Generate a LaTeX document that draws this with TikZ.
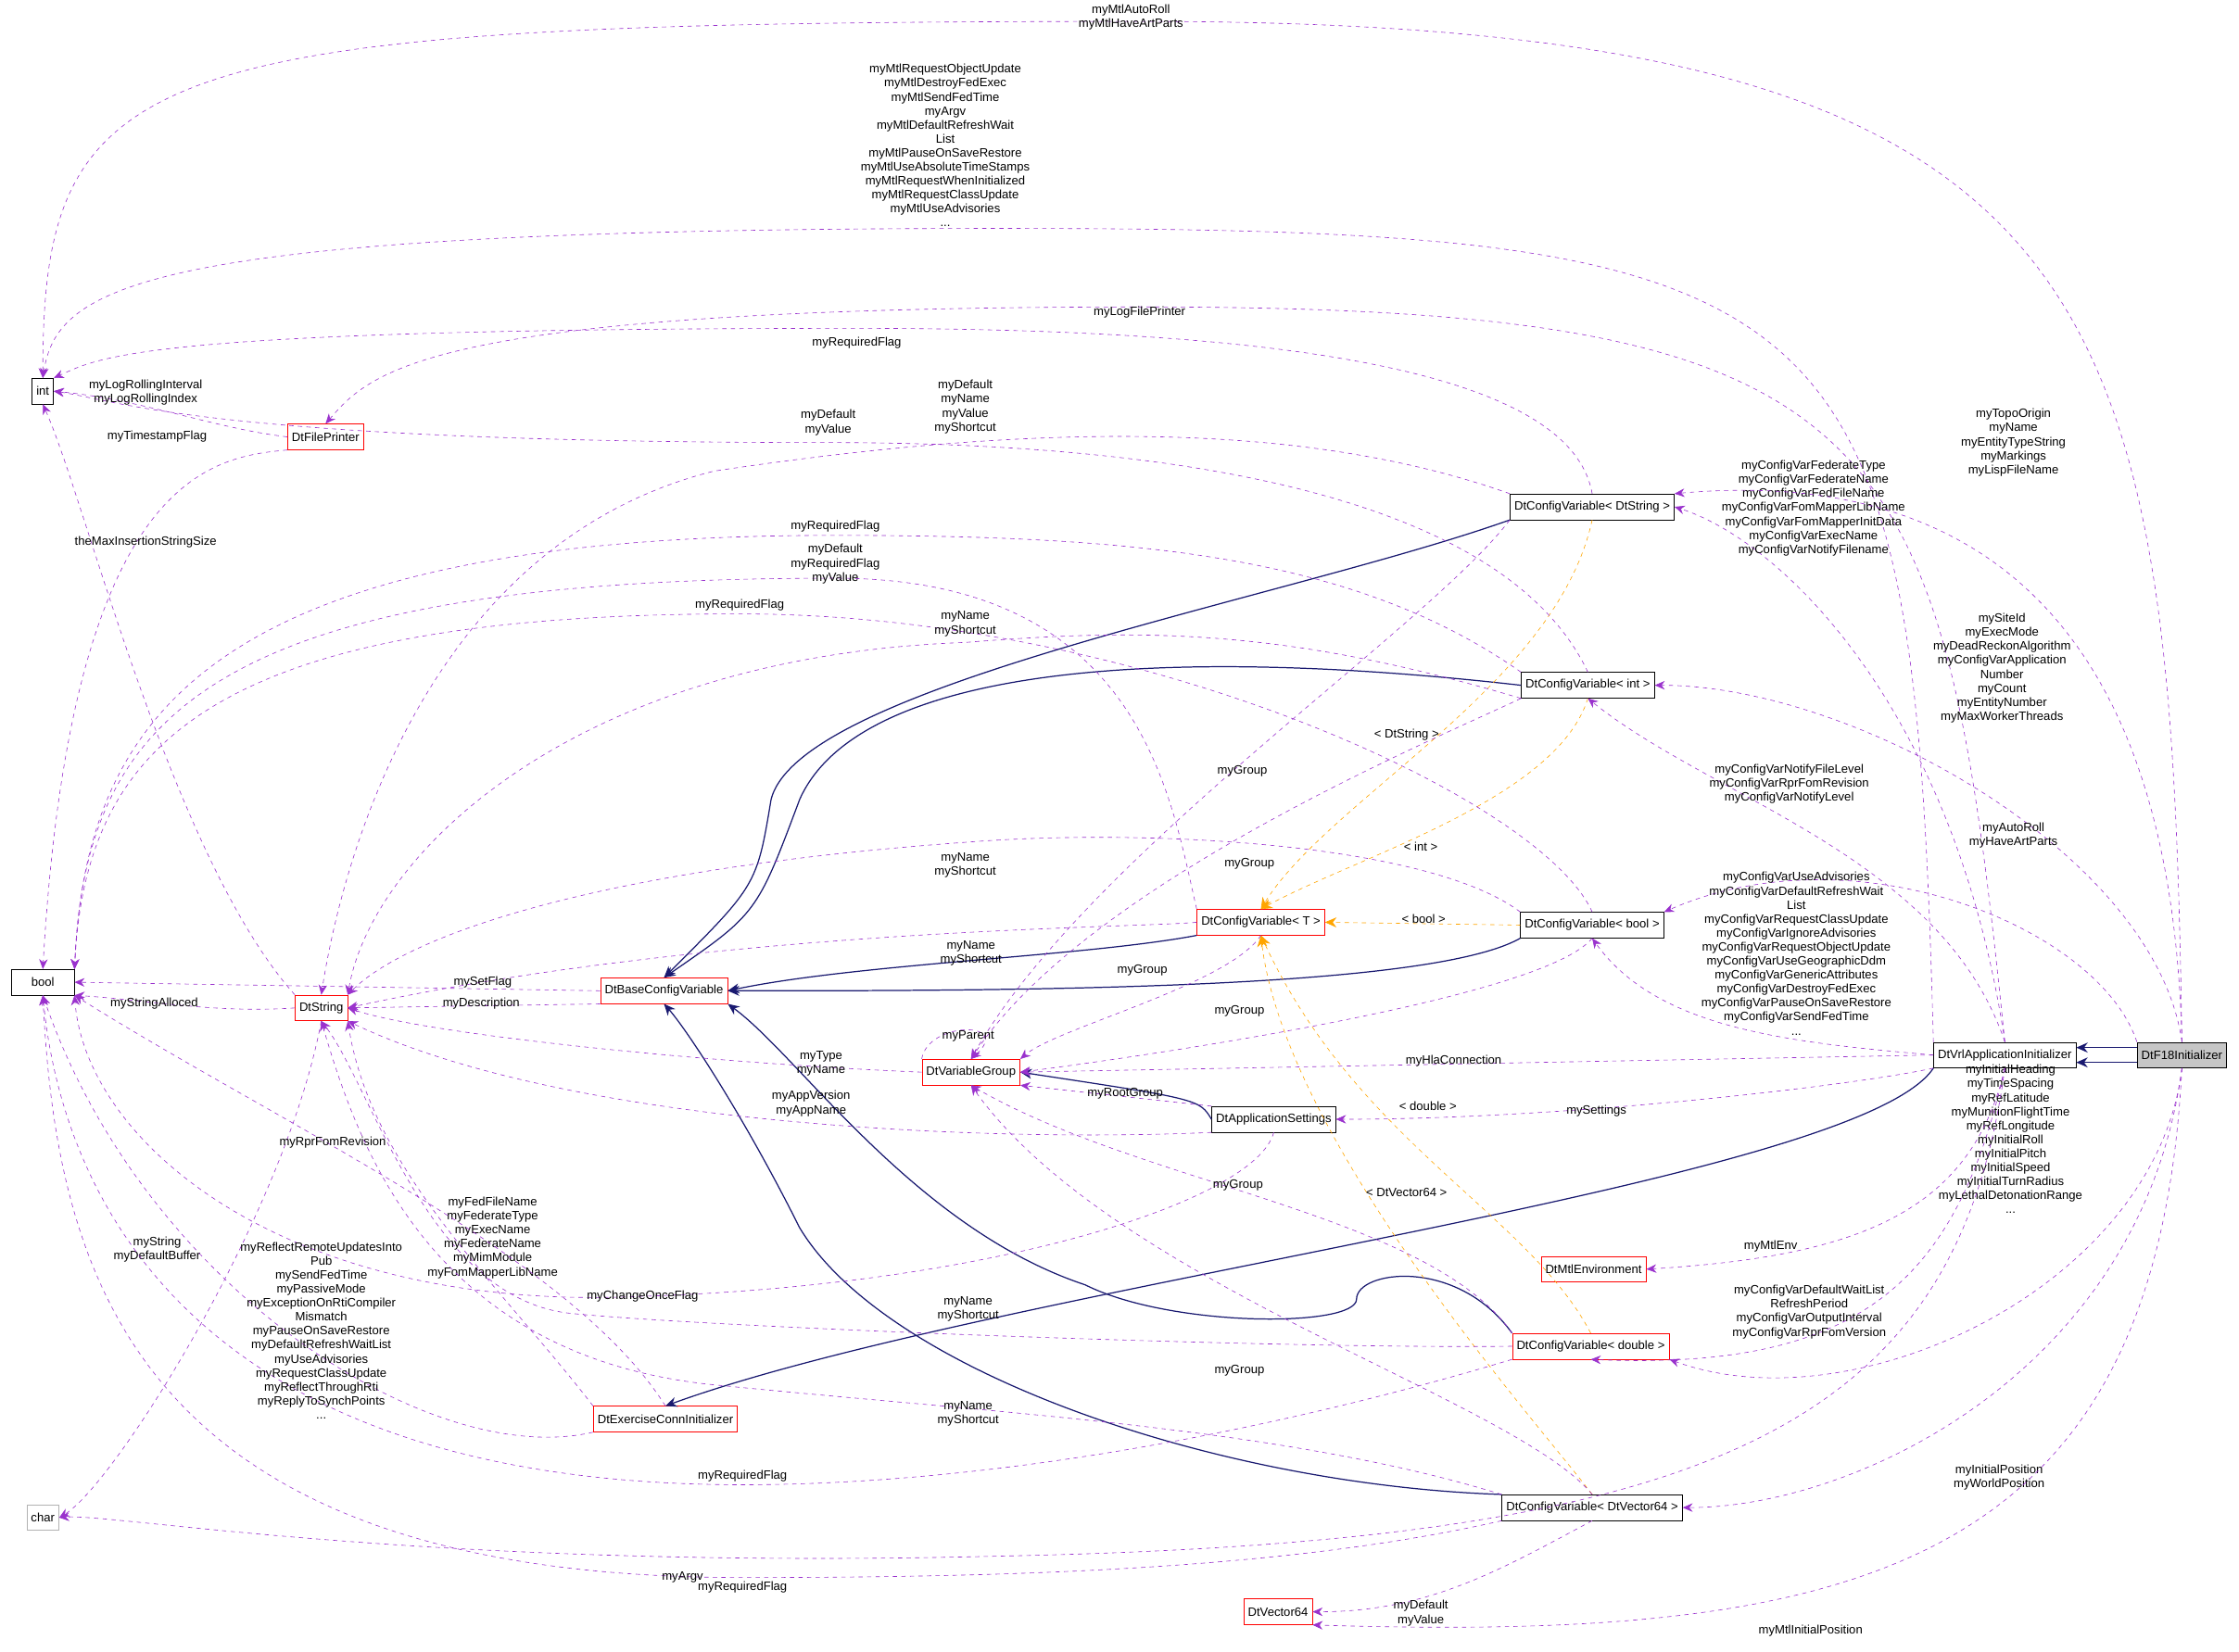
\documentclass[tikz,border=0pt]{standalone}
\usepackage{fontspec}
\setmainfont{Liberation Sans}
\usetikzlibrary{arrows.meta}
\definecolor{pu}{HTML}{9A32CD}
\definecolor{mb}{HTML}{191970}
\definecolor{og}{HTML}{FFA500}
\begin{document}
\begin{tikzpicture}[x=1pt,y=-1pt,font=\fontsize{8.5}{9.8}\selectfont,
 box/.style={draw=black,fill=white,inner sep=3pt,minimum height=18pt,anchor=center},
 rbox/.style={box,draw=red},
 gbox/.style={box,draw=gray!60},
 lab/.style={align=center,inner sep=0pt},
 e/.style={draw=pu,dashed,-{Stealth[length=7pt,width=6pt]}},
 inh/.style={draw=mb,-{Stealth[length=8pt,width=7pt]},thick},
 tm/.style={draw=og,dashed,-{Stealth[length=8pt,width=7pt]}}]
\useasboundingbox (0,0) rectangle (1568,1157);
% nodes
\node[box] (int) at (30,274) {int};
\node[box,minimum width=44pt] (bool) at (30,688) {bool};
\node[gbox] (char) at (30,1063) {char};
\node[rbox] (fp) at (228,306) {DtFilePrinter};
\node[rbox] (str) at (225,706) {DtString};
\node[rbox] (base) at (465,694) {DtBaseConfigVariable};
\node[rbox] (vg) at (680,751) {DtVariableGroup};
\node[rbox] (cT) at (883,646) {DtConfigVariable< T >};
\node[box] (cS) at (1115,355) {DtConfigVariable< DtString >};
\node[box] (cI) at (1112,480) {DtConfigVariable< int >};
\node[box] (cB) at (1115,648) {DtConfigVariable< bool >};
\node[box] (as) at (892,784) {DtApplicationSettings};
\node[box] (vrl) at (1404,739) {DtVrlApplicationInitializer};
\node[box,fill=gray!45] (f18) at (1528,739) {DtF18Initializer};
\node[rbox] (mtl) at (1116,889) {DtMtlEnvironment};
\node[rbox] (cD) at (1114,943) {DtConfigVariable< double >};
\node[rbox] (ex) at (466,994) {DtExerciseConnInitializer};
\node[box] (cV) at (1115,1056) {DtConfigVariable< DtVector64 >};
\node[rbox] (v64) at (895,1129) {DtVector64};
% inheritance
\draw[inh] (cS.south west) .. controls (900,420) and (560,480) .. (540,560) .. controls (530,620) .. (base.north);
\draw[inh] (cI.west) .. controls (800,450) and (600,470) .. (560,560) .. controls (530,640) .. (base.north);
\draw[inh] (cT.south west) .. controls (760,670) and (600,675) .. (base.east);
\draw[inh] (cB.south west) .. controls (1000,694) and (700,694) .. (base.east);
\draw[inh] (as.west) .. controls (840,770) .. (vg.east);
\draw[inh] (cD.north west) .. controls (1020,880) and (950,890) .. (950,910) .. controls (950,930) and (820,930) .. (760,900) .. controls (640,860) and (560,740) .. (base.south east);
\draw[inh] (cV.north west) .. controls (850,1040) and (620,960) .. (560,860) .. controls (520,780) and (480,720) .. (base.south);
\draw[inh] (vrl.south west) .. controls (1300,830) and (700,900) .. (ex.north);
\draw[inh] ([yshift=-4pt]f18.north west) -- ([yshift=-4pt]vrl.north east);
\draw[inh] ([yshift=4pt]f18.south west) -- ([yshift=4pt]vrl.south east);
% templates
\draw[tm] (cS.south) .. controls (1090,480) and (930,560) .. (cT.north);
\draw[tm] (cI.south) .. controls (1090,560) and (950,600) .. (cT.north);
\draw[tm] (cB.west) -- (cT.east);
\draw[tm] (cD.north) .. controls (1070,850) and (950,800) .. (cT.south);
\draw[tm] (cV.north) .. controls (1080,1000) and (900,800) .. (cT.south);
\node[lab] (t1) at (985,515) {< DtString >};
\node[lab] (t2) at (995,593) {< int >};
\node[lab] (t3) at (997,644) {< bool >};
\node[lab] (t4) at (1000,775) {< double >};
\node[lab] (t5) at (985,835) {< DtVector64 >};
% purple
\draw[e] (f18.north) .. controls (1520,200) and (1480,15) .. (800,15) .. controls (100,15) and (30,40) .. (int.north);
\node[lab] (l1) at (792,12) {myMtlAutoRoll\\myMtlHaveArtParts};
\draw[e] (vrl.north west) .. controls (1340,200) and (1300,160) .. (700,160) .. controls (100,160) and (40,200) .. (int.north);
\node[lab] (l2) at (662,102) {myMtlRequestObjectUpdate\\myMtlDestroyFedExec\\myMtlSendFedTime\\myArgv\\myMtlDefaultRefreshWait\\List\\myMtlPauseOnSaveRestore\\myMtlUseAbsoluteTimeStamps\\myMtlRequestWhenInitialized\\myMtlRequestClassUpdate\\myMtlUseAdvisories\\...};
\draw[e] (vrl.north) .. controls (1360,300) and (1330,215) .. (800,215) .. controls (300,215) and (260,260) .. (fp.north);
\node[lab] (l3) at (798,219) {myLogFilePrinter};
\draw[e] (cS.north) .. controls (1100,260) and (900,230) .. (600,230) .. controls (100,230) and (70,250) .. (int.north east);
\node[lab] (l4) at (600,240) {myRequiredFlag};
\draw[e] (cI.north) .. controls (1050,340) and (800,310) .. (580,310) .. controls (150,310) and (80,280) .. (int.east);
\node[lab] (l5) at (580,296) {myDefault\\myValue};
\draw[e] (fp.west) .. controls (150,300) and (100,280) .. (int.east);
\node[lab] (l6) at (102,275) {myLogRollingInterval\\myLogRollingIndex};
\draw[e] (fp.south west) .. controls (150,320) and (50,330) .. (bool.north);
\node[lab] (l7) at (110,306) {myTimestampFlag};
\draw[e] (cS.north west) .. controls (900,290) and (700,300) .. (500,330) .. controls (300,380) and (240,600) .. (str.north);
\node[lab] (l8) at (676,285) {myDefault\\myName\\myValue\\myShortcut};
\draw[e] (cI.north west) .. controls (950,390) and (800,375) .. (585,375) .. controls (150,375) and (60,500) .. (bool.north east);
\node[lab] (l9) at (585,369) {myRequiredFlag};
\draw[e] (cT.north west) .. controls (820,560) and (800,405) .. (585,405) .. controls (150,405) and (60,500) .. (bool.north east);
\node[lab] (l10) at (585,395) {myDefault\\myRequiredFlag\\myValue};
\draw[e] (cB.north) .. controls (1080,560) and (800,430) .. (518,430) .. controls (150,430) and (60,520) .. (bool.north east);
\node[lab] (l11) at (518,424) {myRequiredFlag};
\draw[e] (cI.south west) .. controls (900,440) and (800,440) .. (676,450) .. controls (400,460) and (260,600) .. (str.north east);
\node[lab] (l12) at (676,437) {myName\\myShortcut};
\draw[e] (cS.south west) .. controls (1000,440) and (760,600) .. (vg.north);
\node[lab] (l13) at (870,540) {myGroup};
\draw[e] (cI.south west) .. controls (1000,520) and (760,620) .. (vg.north);
\node[lab] (l14) at (875,605) {myGroup};
\draw[e] (cB.north west) .. controls (1000,590) and (800,580) .. (676,590) .. controls (400,610) and (280,660) .. (str.north east);
\node[lab] (l15) at (676,606) {myName\\myShortcut};
\draw[e] (cT.west) .. controls (800,650) and (500,650) .. (str.east);
\node[lab] (l16) at (680,668) {myName\\myShortcut};
\draw[e] (cT.south) .. controls (860,690) and (740,720) .. (vg.north east);
\node[lab] (l17) at (800,680) {myGroup};
\draw[e] (cB.south) .. controls (1080,700) and (800,740) .. (vg.east);
\node[lab] (l18) at (868,708) {myGroup};
\draw[e] (base.west) -- (bool.east);
\node[lab] (l19) at (338,688) {mySetFlag};
\draw[e] (base.south west) -- (str.east);
\node[lab] (l20) at (337,703) {myDescription};
\draw[e] (str.west) .. controls (150,710) and (100,700) .. (bool.south east);
\node[lab] (l21) at (108,703) {myStringAlloced};
\draw[e] (str.north west) .. controls (120,600) and (60,350) .. (int.south);
\node[lab] (l22) at (102,380) {theMaxInsertionStringSize};
\draw[e] (str.south) .. controls (200,850) and (80,1040) .. (char.east);
\node[lab] (l23) at (110,875) {myString\\myDefaultBuffer};
\draw[e] (vg.north west) .. controls (650,715) and (710,715) .. (vg.north);
\node[lab] (l24) at (678,726) {myParent};
\draw[e] (vg.west) .. controls (500,745) and (300,725) .. (str.east);
\node[lab] (l25) at (575,745) {myType\\myName};
\draw[e] (as.north west) -- (vg.south east);
\node[lab] (l26) at (788,766) {myRootGroup};
\draw[e] (as.south west) .. controls (700,800) and (400,790) .. (str.south east);
\node[lab] (l27) at (568,773) {myAppVersion\\myAppName};
\draw[e] (as.south) .. controls (880,840) and (700,900) .. (450,908) .. controls (200,920) and (60,800) .. (bool.south east);
\node[lab] (l28) at (450,908) {myChangeOnceFlag};
\draw[e] (vrl.north) .. controls (1370,500) and (1250,380) .. (cS.east);
\node[lab] (l29) at (1270,356) {myConfigVarFederateType\\myConfigVarFederateName\\myConfigVarFedFileName\\myConfigVarFomMapperLibName\\myConfigVarFomMapperInitData\\myConfigVarExecName\\myConfigVarNotifyFilename};
\draw[e] (f18.north) .. controls (1520,400) and (1350,330) .. (cS.north east);
\node[lab] (l30) at (1410,310) {myTopoOrigin\\myName\\myEntityTypeString\\myMarkings\\myLispFileName};
\draw[e] (f18.north) .. controls (1510,600) and (1300,480) .. (cI.east);
\node[lab] (l31) at (1402,468) {mySiteId\\myExecMode\\myDeadReckonAlgorithm\\myConfigVarApplication\\Number\\myCount\\myEntityNumber\\myMaxWorkerThreads};
\draw[e] (vrl.north) .. controls (1360,600) and (1200,560) .. (cI.south);
\node[lab] (l32) at (1253,549) {myConfigVarNotifyFileLevel\\myConfigVarRprFomRevision\\myConfigVarNotifyLevel};
\draw[e] (f18.north west) .. controls (1470,650) and (1300,580) .. (cB.north east);
\node[lab] (l33) at (1410,585) {myAutoRoll\\myHaveArtParts};
\draw[e] (vrl.west) .. controls (1250,730) and (1160,720) .. (cB.south);
\node[lab] (l34) at (1258,668) {myConfigVarUseAdvisories\\myConfigVarDefaultRefreshWait\\List\\myConfigVarRequestClassUpdate\\myConfigVarIgnoreAdvisories\\myConfigVarRequestObjectUpdate\\myConfigVarUseGeographicDdm\\myConfigVarGenericAttributes\\myConfigVarDestroyFedExec\\myConfigVarPauseOnSaveRestore\\myConfigVarSendFedTime\\...};
\draw[e] (vrl.west) -- (vg.east);
\node[lab] (l35) at (1018,743) {myHlaConnection};
\draw[e] (vrl.south west) .. controls (1300,760) and (1100,784) .. (as.east);
\node[lab] (l36) at (1118,778) {mySettings};
\draw[e] (f18.south) .. controls (1510,900) and (1300,1000) .. (cD.south east);
\node[lab] (l37) at (1408,798) {myInitialHeading\\myTimeSpacing\\myRefLatitude\\myMunitionFlightTime\\myRefLongitude\\myInitialRoll\\myInitialPitch\\myInitialSpeed\\myInitialTurnRadius\\myLethalDetonationRange\\...};
\draw[e] (vrl.south) .. controls (1380,850) and (1300,880) .. (mtl.east);
\node[lab] (l38) at (1240,873) {myMtlEnv};
\draw[e] (vrl.south) .. controls (1370,900) and (1300,960) .. (cD.south);
\node[lab] (l39) at (1267,919) {myConfigVarDefaultWaitList\\RefreshPeriod\\myConfigVarOutputInterval\\myConfigVarRprFomVersion};
\draw[e] (cD.north west) .. controls (1000,850) and (800,830) .. (vg.south);
\node[lab] (l40) at (867,830) {myGroup};
\draw[e] (cD.west) .. controls (900,945) and (500,930) .. (400,920) .. controls (300,910) and (260,760) .. (str.south);
\node[lab] (l41) at (678,917) {myName\\myShortcut};
\draw[e] (cD.south west) .. controls (900,1000) and (700,1040) .. (520,1040) .. controls (100,1040) and (40,800) .. (bool.south);
\node[lab] (l42) at (520,1034) {myRequiredFlag};
\draw[e] (ex.south west) .. controls (300,1030) and (100,900) .. (bool.south);
\node[lab] (l43) at (225,932) {myReflectRemoteUpdatesInto\\Pub\\mySendFedTime\\myPassiveMode\\myExceptionOnRtiCompiler\\Mismatch\\myPauseOnSaveRestore\\myDefaultRefreshWaitList\\myUseAdvisories\\myRequestClassUpdate\\myReflectThroughRti\\myReplyToSynchPoints\\...};
\draw[e] (ex.north west) .. controls (350,900) and (260,820) .. (str.south east);
\node[lab] (l44) at (345,867) {myFedFileName\\myFederateType\\myExecName\\myFederateName\\myMimModule\\myFomMapperLibName};
\draw[e] (ex.north) .. controls (400,880) and (200,790) .. (bool.south east);
\node[lab] (l45) at (233,800) {myRprFomRevision};
\draw[e] (f18.south) .. controls (1500,960) and (1300,1056) .. (cV.east);
\node[lab] (l46) at (1400,1035) {myInitialPosition\\myWorldPosition};
\draw[e] (cV.north) .. controls (1060,980) and (780,900) .. (vg.south);
\node[lab] (l47) at (868,960) {myGroup};
\draw[e] (cV.north west) .. controls (900,1000) and (700,990) .. (500,970) .. controls (300,950) and (250,800) .. (str.south);
\node[lab] (l48) at (678,990) {myName\\myShortcut};
\draw[e] (cV.south west) .. controls (900,1100) and (700,1105) .. (520,1105) .. controls (100,1105) and (40,900) .. (bool.south);
\node[lab] (l49) at (520,1112) {myRequiredFlag};
\draw[e] (cV.south) .. controls (1050,1100) and (1000,1129) .. (v64.east);
\node[lab] (l50) at (995,1130) {myDefault\\myValue};
\draw[e] (vrl.south) .. controls (1370,1000) and (1200,1080) .. (700,1090) .. controls (300,1100) and (80,1060) .. (char.east);
\node[lab] (l51) at (478,1105) {myArgv};
\draw[e] (f18.south) .. controls (1510,1100) and (1300,1150) .. (v64.south east);
\node[lab] (l52) at (1268,1142) {myMtlInitialPosition};
\end{tikzpicture}
\end{document}
